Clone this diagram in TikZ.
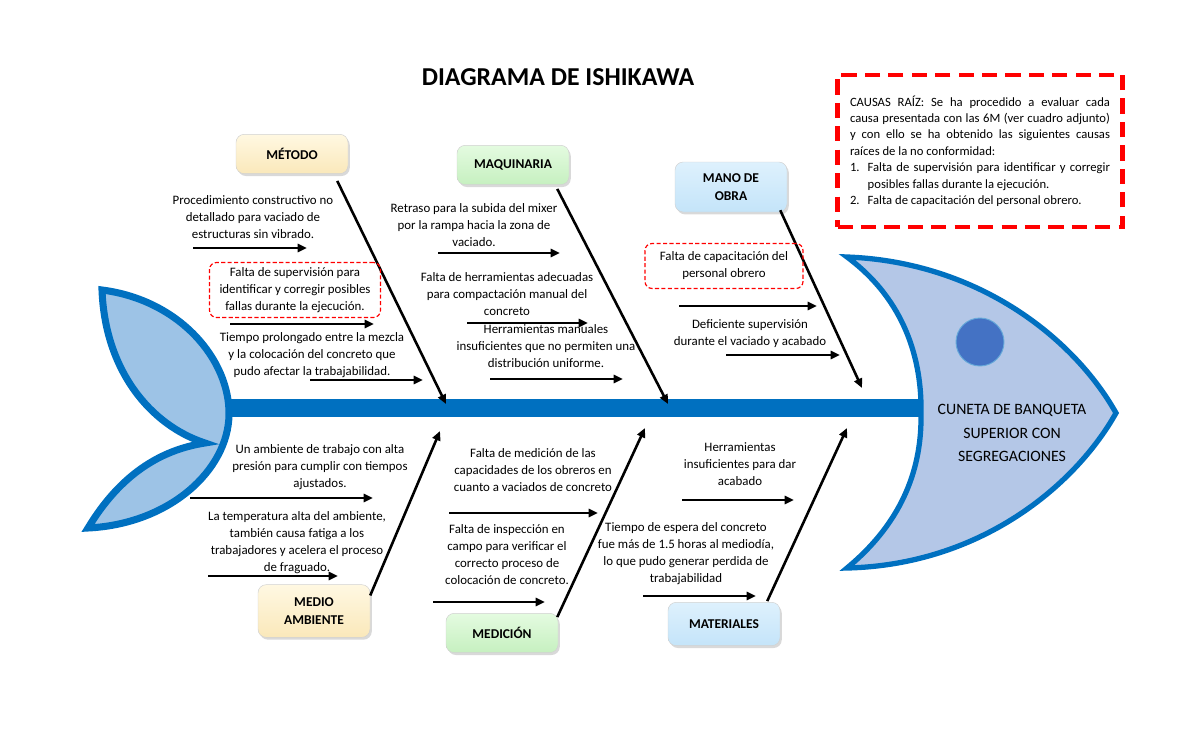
\documentclass[tikz,border=0pt]{standalone}
\usepackage{fontspec}
\setmainfont{Carlito}
\usetikzlibrary{arrows.meta, calc, shadows}

\definecolor{fishblue}{HTML}{0070C0}
\definecolor{tailfill}{HTML}{9DC3E6}
\definecolor{headfill}{HTML}{B4C7E7}
\definecolor{eyefill}{HTML}{4472C4}
\definecolor{yelA}{RGB}{255,248,226}
\definecolor{yelB}{RGB}{250,232,186}
\definecolor{grnA}{RGB}{228,251,224}
\definecolor{grnB}{RGB}{198,240,192}
\definecolor{bluA}{RGB}{222,241,253}
\definecolor{bluB}{RGB}{196,228,249}

\begin{document}
\begin{tikzpicture}[x=0.03cm, y=-0.03cm, >={Triangle[length=8pt,width=7pt]},
    txt/.style={align=center, inner sep=0pt, font=\fontsize{11}{14.5}\selectfont},
    cat/.style={rounded corners=7pt, draw=black!18, minimum width=3.36cm, minimum height=1.18cm,
        align=center, font=\fontsize{11.5}{15.5}\selectfont\bfseries,
        drop shadow={opacity=0.3, shadow xshift=1.5pt, shadow yshift=-2pt}},
    yel/.style={cat, top color=yelA, bottom color=yelB},
    grn/.style={cat, top color=grnA, bottom color=grnB},
    blu/.style={cat, top color=bluA, bottom color=bluB},
    flag/.style={txt, draw=red, line width=1pt, dash pattern=on 3.5pt off 2pt, rounded corners=6pt},
    bone/.style={->, line width=2.2pt},
    cause/.style={->, line width=2.2pt}]
    \useasboundingbox (0,0) rectangle (1200,729);

    % title
    \node[font=\fontsize{22}{26}\selectfont\bfseries] (title) at (558,77) {DIAGRAMA DE ISHIKAWA};

    % fish: spine, tail, head
    \fill[fishblue] (225,399) rectangle (925,417);
    \filldraw[fill=tailfill, draw=fishblue, line width=6pt] (102,290) .. controls (180,300) and (230,360) .. (229,415)
        .. controls (228,470) and (170,524) .. (88,528) .. controls (120,475) and (160,450) .. (205,443)
        .. controls (150,425) and (105,370) .. cycle;
    \filldraw[fill=headfill, draw=fishblue, line width=4.5pt] (847,257) .. controls (980,262) and (1075,340) .. (1116,413)
        .. controls (1075,486) and (980,565) .. (847,568) .. controls (905,520) and (922,465) .. (921,413)
        .. controls (922,360) and (905,300) .. cycle;
    \filldraw[fill=eyefill, draw=fishblue!60, line width=0.8pt] (980,342) circle[radius=24];
    \node[align=center, font=\fontsize{13.5}{20}\selectfont] (effect) at (1012,433) {CUNETA DE BANQUETA\\SUPERIOR CON\\SEGREGACIONES};

    % root causes
    \node[draw=red, line width=3.5pt, dash pattern=on 13pt off 7pt, text width=7.8cm, inner xsep=0.375cm,
        minimum height=4.56cm, align=justify, font=\fontsize{10.8}{14}\selectfont] (raiz) at (980,151)
        {\noindent CAUSAS RAÍZ: Se ha procedido a evaluar cada\linebreak causa presentada con las 6M (ver cuadro adjunto)\linebreak
        y con ello se ha obtenido las siguientes causas\linebreak raíces de la no conformidad:\par
        \noindent\hangindent=1.4em\hangafter=1\makebox[1.4em][l]{1.}Falta de supervisión para identificar y corregir\linebreak
        posibles fallas durante la ejecución.\par
        \noindent\makebox[1.4em][l]{2.}Falta de capacitación del personal obrero.\par};

    % categories
    \node[yel] (metodo) at (292,154) {MÉTODO};
    \node[grn] (maq) at (513,165) {MAQUINARIA};
    \node[blu, minimum height=1.5cm] (mano) at (731,187) {MANO DE\\OBRA};
    \node[yel, minimum height=1.58cm] (medio) at (314,611) {MEDIO\\AMBIENTE};
    \node[grn] (medic) at (502,633) {MEDICIÓN};
    \node[blu, minimum height=1.3cm] (mat) at (724,624) {MATERIALES};

    % bones
    \coordinate (e1) at (446,404);
    \coordinate (e2) at (668,404);
    \coordinate (e3) at (862,388);
    \coordinate (e4) at (440,431);
    \coordinate (e5) at (645,428);
    \coordinate (e6) at (847,428);
    \draw[bone] ($(metodo.south east)+(-11,7)$) -- (e1);
    \draw[bone] ($(maq.south east)+(-12,4)$) -- (e2);
    \draw[bone] ($(mano.south east)+(-7,-2)$) -- (e3);
    \draw[bone] ($(medio.north east)+(0,11)$) -- (e4);
    \draw[bone] ($(medic.north east)+(-1,4)$) -- (e5);
    \draw[bone] ($(mat.north east)+(-13,-1)$) -- (e6);

    % causes
    \node[txt] (c1) at (253,217) {Procedimiento constructivo no\\detallado para vaciado de\\estructuras sin vibrado.};
    \node[flag, minimum width=5.13cm, minimum height=1.65cm] (c2) at (295,290) {Falta de supervisión para\\identificar y corregir posibles\\fallas durante la ejecución.};
    \node[txt] (c3) at (312,355) {Tiempo prolongado entre la mezcla\\y la colocación del concreto que\\pudo afectar la trabajabilidad.};
    \node[txt] (c4) at (474,225) {Retraso para la subida del mixer\\por la rampa hacia la zona de\\vaciado.};
    \node[txt] (c5) at (507,294) {Falta de herramientas adecuadas\\para compactación manual del\\concreto};
    \node[txt] (c6) at (546,346) {Herramientas manuales\\insuficientes que no permiten una\\distribución uniforme.};
    \node[flag, minimum width=4.74cm, minimum height=1.35cm] (c7) at (724,266) {Falta de capacitación del\\personal obrero};
    \node[txt] (c8) at (750,334) {Deficiente supervisión\\durante el vaciado y acabado};
    \node[txt] (c9) at (320,467) {Un ambiente de trabajo con alta\\presión para cumplir con tiempos\\ajustados.};
    \node[txt] (c10) at (297,543) {La temperatura alta del ambiente,\\también causa fatiga a los\\trabajadores y acelera el proceso\\de fraguado.};
    \node[txt] (c11) at (533,470) {Falta de medición de las\\capacidades de los obreros en\\cuanto a vaciados de concreto};
    \node[txt] (c12) at (507,555) {Falta de inspección en\\campo para verificar el\\correcto proceso de\\colocación de concreto.};
    \node[txt] (c13) at (740,464) {Herramientas\\insuficientes para dar\\acabado};
    \node[txt] (c14) at (686,554) {Tiempo de espera del concreto\\fue más de 1.5 horas al mediodía,\\lo que pudo generar perdida de\\trabajabilidad};

    % cause arrows
    \foreach \n/\xa/\xb/\yy in {a1/193/307/248, a2/230/374/324, a3/310/423/380, a4/438/560/253,
        a5/467/588/323, a6/490/623/379, a7/679/817/306, a8/726/840/355, a9/190/373/498,
        a10/208/338/576, a11/449/598/513, a12/433/545/602, a13/682/794/500, a14/643/756/596} {
        \coordinate (\n s) at (\xa,\yy);
        \coordinate (\n e) at (\xb,\yy);
        \draw[cause] (\n s) -- (\n e);
    }
\end{tikzpicture}
\end{document}
